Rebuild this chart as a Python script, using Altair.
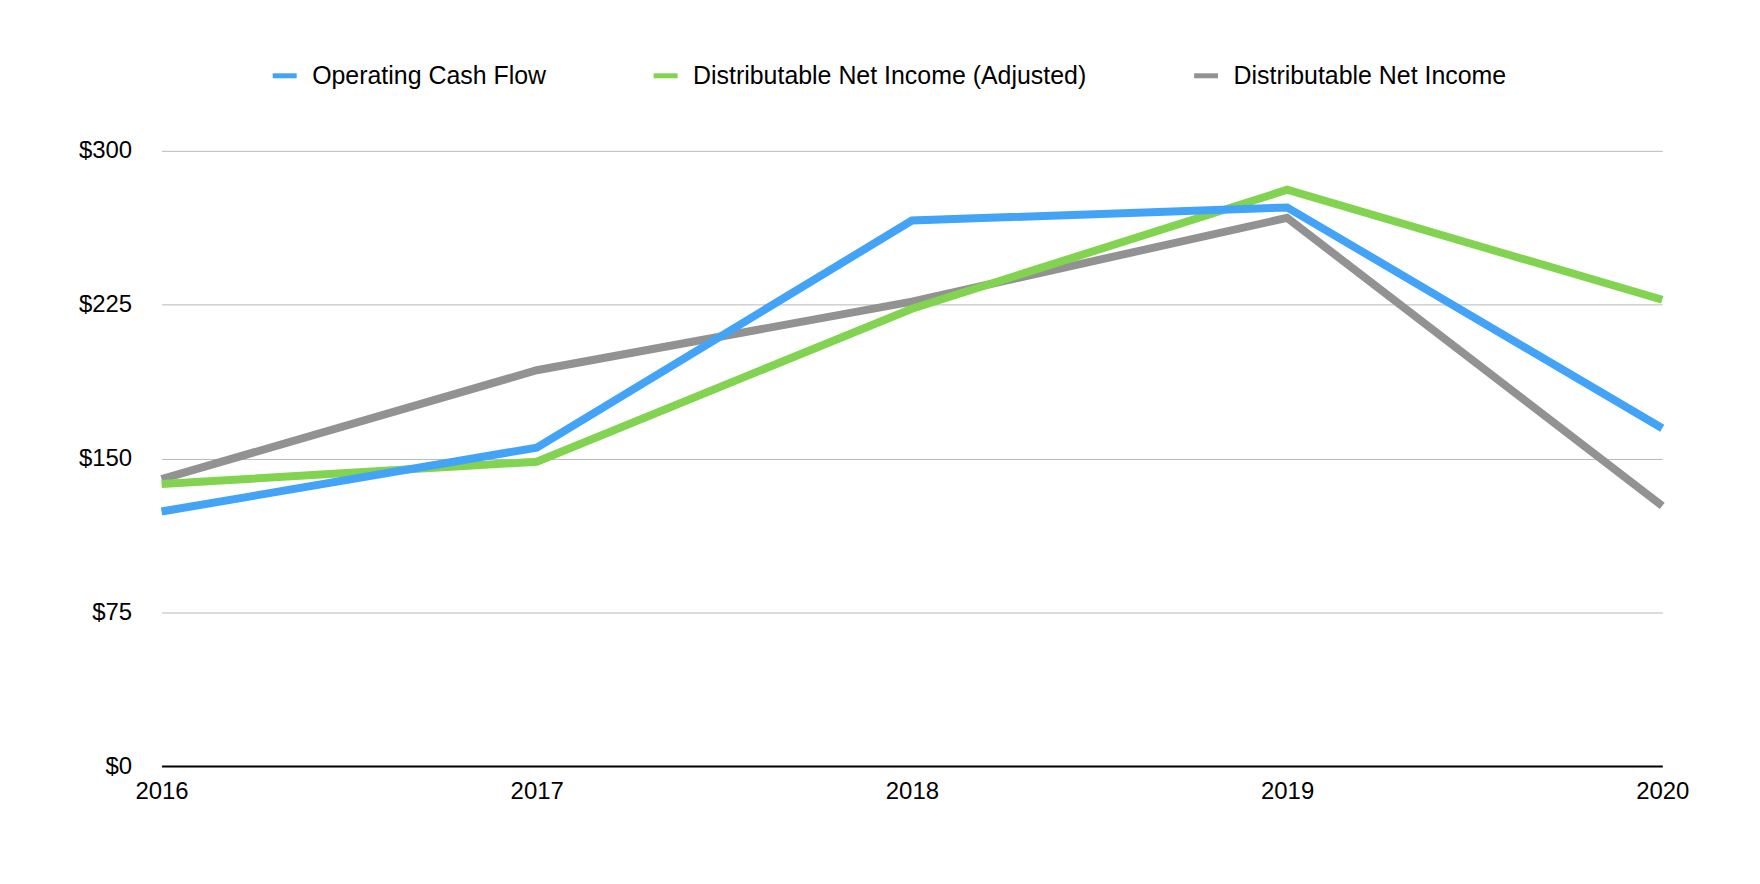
import pandas as pd
import altair as alt

# values
years = [2016, 2017, 2018, 2019, 2020]
series_names = [
    "Operating Cash Flow",
    "Distributable Net Income (Adjusted)",
    "Distributable Net Income",
]
series_colors = ["#43A3F7", "#82D350", "#929292"]

operating_cash_flow = [124.1, 155.3, 266.0, 272.4, 164.7]
dni_adjusted = [137.5, 148.4, 223.0, 281.0, 227.4]
dni = [139.9, 193.0, 226.5, 267.3, 126.9]

y_ticks = [0, 75, 150, 225, 300]

# grey drawn first, blue last so blue sits on top like the original
rows = []
for name, vals in [
    (series_names[2], dni),
    (series_names[1], dni_adjusted),
    (series_names[0], operating_cash_flow),
]:
    for yr, v in zip(years, vals):
        rows.append({"year": yr, "series": name, "value": v})
df = pd.DataFrame(rows)

FONT = "Liberation Sans"

chart = alt.Chart(df).mark_line(strokeWidth=8, strokeCap="butt", strokeJoin="miter").encode(
    x=alt.X(
        "year:O",
        title=None,
        scale=alt.Scale(type="point", padding=0),
        axis=alt.Axis(
            labelAngle=0,
            labelFontSize=24,
            labelColor="#000000",
            labelPadding=14,
            ticks=False,
            tickSize=0,
            grid=False,
            domain=True,
            domainColor="#000000",
            domainWidth=2,
        ),
    ),
    y=alt.Y(
        "value:Q",
        title=None,
        scale=alt.Scale(domain=[0, 300], nice=False),
        axis=alt.Axis(
            values=y_ticks,
            format="$.0f",
            labelFontSize=24,
            labelColor="#000000",
            labelPadding=30,
            ticks=False,
            tickSize=0,
            domain=False,
            grid=True,
            gridColor="#B8B8B8",
            gridWidth=1,
        ),
    ),
    color=alt.Color(
        "series:N",
        scale=alt.Scale(domain=series_names, range=series_colors),
        legend=alt.Legend(
            title=None,
            orient="none",
            direction="horizontal",
            legendX=109,
            legendY=-90,
            symbolType="stroke",
            symbolSize=576,
            symbolStrokeWidth=5,
            labelFontSize=25,
            labelColor="#000000",
            labelOffset=13,
            columnPadding=97,
            labelLimit=600,
        ),
    ),
).properties(
    width=1505,
    height=617,
    padding={"left": 154, "top": 142, "right": 90, "bottom": 100},
    autosize=alt.AutoSizeParams(type="none"),
).configure(
    font=FONT,
).configure_view(
    stroke=None,
)

chart.save("out.html", embed_options={"renderer": "svg", "actions": False})
